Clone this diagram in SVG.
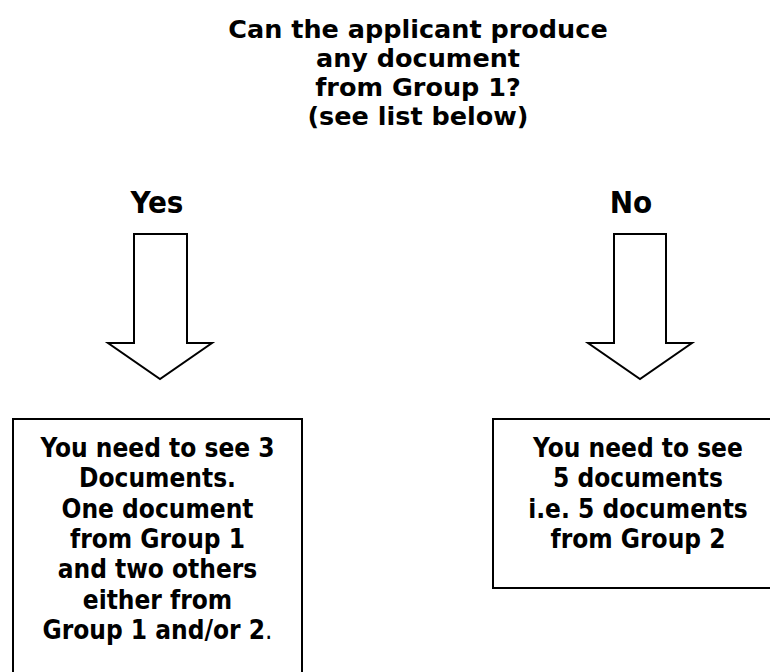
<svg xmlns="http://www.w3.org/2000/svg" width="770" height="672" viewBox="0 0 770 672">
<style>
  text { font-family: "DejaVu Sans Condensed", "DejaVu Sans", sans-serif; font-weight: bold; font-size: 26px; fill: #000; text-anchor: middle; }
  .title { font-family: "DejaVu Sans", sans-serif; font-size: 25.5px; }
  .branch { font-size: 31px; }
  .box { fill: #fff; stroke: #000; stroke-width: 2; }
  .arrow { fill: #fff; stroke: #000; stroke-width: 2; stroke-linejoin: miter; }
</style>
<rect width="770" height="672" fill="#fff"/>
<g id="question">
  <text class="title" x="418" y="38">Can the applicant produce</text>
  <text class="title" x="418" y="67">any document</text>
  <text class="title" x="418" y="96">from Group 1?</text>
  <text class="title" x="418" y="125">(see list below)</text>
</g>
<g id="connectors">
  <g id="yes-branch">
    <text class="branch" x="157" y="213">Yes</text>
    <polygon class="arrow" points="134,234 187,234 187,343 212,343 160,379 108,343 134,343"/>
  </g>
  <g id="no-branch">
    <text class="branch" x="631" y="213">No</text>
    <polygon class="arrow" points="614,234 666,234 666,343 692,343 640,379 588,343 614,343"/>
  </g>
</g>
<g id="yes-box">
  <rect class="box" x="13" y="419" width="289" height="270"/>
  <text x="157.5" y="457">You need to see 3</text>
  <text x="157.5" y="487">Documents.</text>
  <text x="157.5" y="517.5">One document</text>
  <text x="157.5" y="548">from Group 1</text>
  <text x="157.5" y="578">and two others</text>
  <text x="157.5" y="608.5">either from</text>
  <text x="157.5" y="639">Group 1 and/or 2<tspan font-weight="normal">.</tspan></text>
</g>
<g id="no-box">
  <rect class="box" x="493" y="419" width="290" height="169"/>
  <text x="638" y="457">You need to see</text>
  <text x="638" y="487">5 documents</text>
  <text x="638" y="517.5">i.e. 5 documents</text>
  <text x="638" y="548">from Group 2</text>
</g>
</svg>
